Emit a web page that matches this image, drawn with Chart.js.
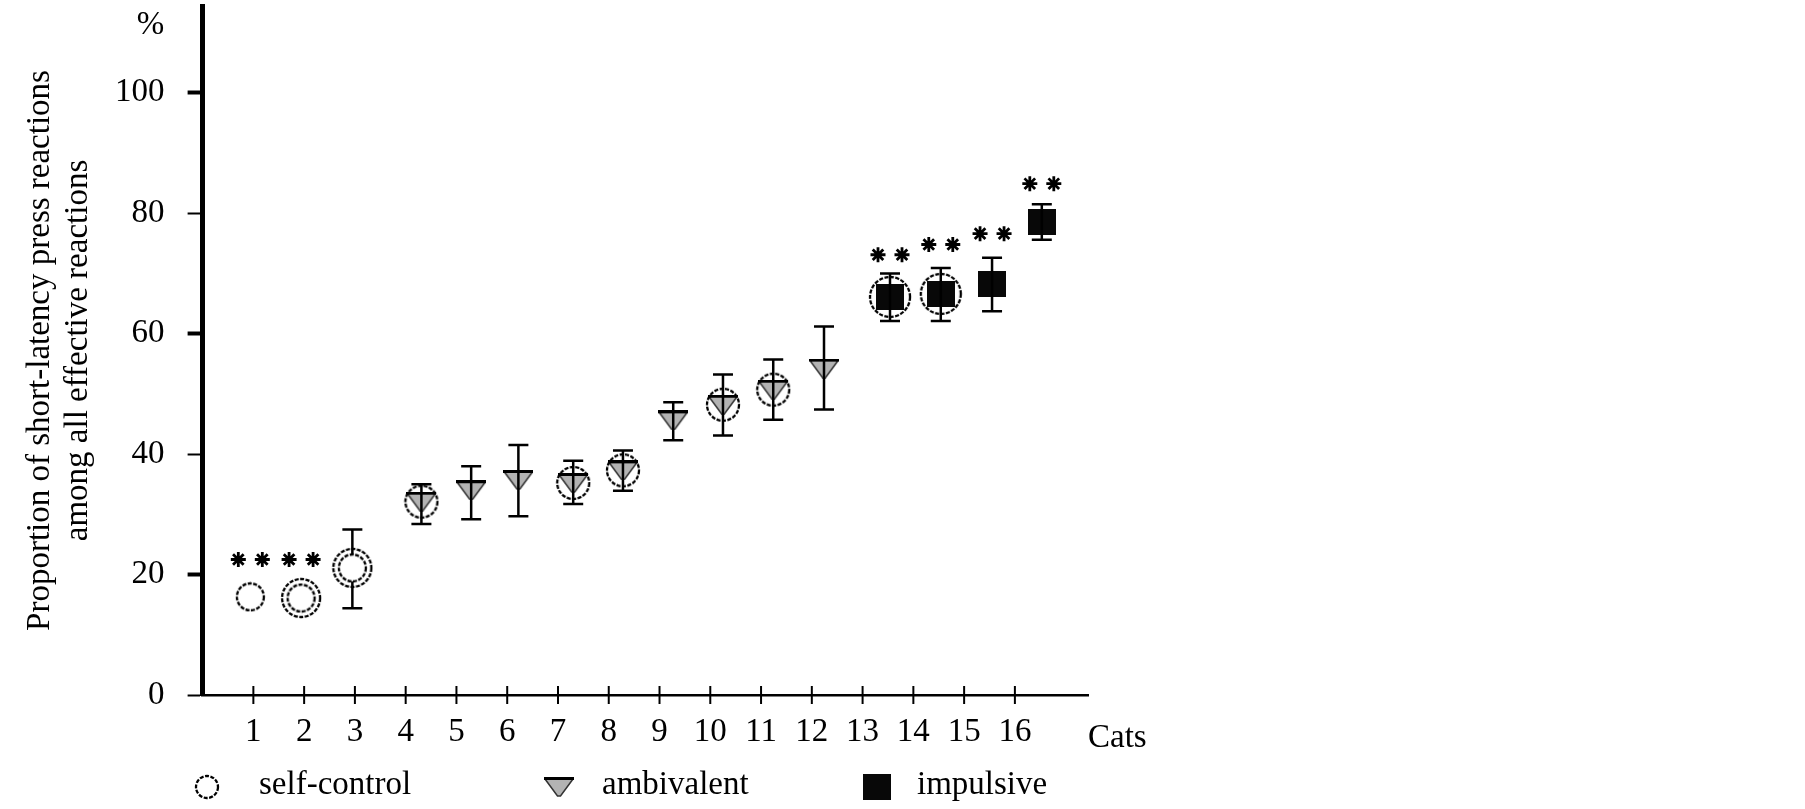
<!DOCTYPE html>
<html>
<head>
<meta charset="utf-8">
<script src="https://cdn.jsdelivr.net/npm/chart.js@4.4.0/dist/chart.umd.min.js"></script>
<style>
  html, body { margin: 0; padding: 0; background: #fff; }
</style>
</head>
<body>
<canvas id="catsChart" width="1805" height="809"></canvas>
<script>
// values
const cats = [1, 2, 3, 4, 5, 6, 7, 8, 9, 10, 11, 12, 13, 14, 15, 16];
const catPos = [0.94, 1.94, 2.95, 4.31, 5.29, 6.22, 7.30, 8.28, 9.27, 10.25, 11.24, 12.24, 13.54, 14.54, 15.55, 16.53];
const groups = ['self-control', 'self-control', 'self-control',
    'ambivalent', 'ambivalent', 'ambivalent', 'ambivalent', 'ambivalent', 'ambivalent', 'ambivalent', 'ambivalent', 'ambivalent',
    'impulsive', 'impulsive', 'impulsive', 'impulsive'];
const meanVals = [16.3, 16.1, 21.1, 32.1, 34.0, 35.7, 35.2, 37.3, 45.6, 48.2, 50.7, 54.2, 66.1, 66.6, 68.2, 78.6];
const errHigh = [null, null, 27.5, 35.0, 38.0, 41.5, 38.9, 40.6, 48.6, 53.2, 55.7, 61.2, 70.0, 70.9, 72.6, 81.5];
const errLow = [null, null, 14.4, 28.4, 29.2, 29.7, 31.7, 33.9, 42.3, 43.1, 45.7, 47.4, 62.1, 62.1, 63.7, 75.6];
const ringedCats = [2, 3, 4, 7, 8, 10, 11, 13, 14];
const starCats = [1, 2, 13, 14, 15, 16];
const starVals = [22.5, 22.5, 73.1, 74.8, 76.6, 84.9];
const yTicks = [0, 20, 40, 60, 80, 100];
const seriesNames = ['self-control', 'ambivalent', 'impulsive'];
const yTitle = ['Proportion of short-latency press reactions', 'among all effective reactions'];

const FONT = 'Liberation Serif';

function makeMarker(w, h, draw) {
    const c = document.createElement('canvas');
    c.width = w;
    c.height = h;
    draw(c.getContext('2d'), w, h);
    return c;
}
function ring(r, fill) {
    return makeMarker(2 * r + 4, 2 * r + 4, (g, w, h) => {
        g.beginPath();
        g.arc(w / 2, h / 2, r, 0, Math.PI * 2);
        if (fill) { g.fillStyle = fill; g.fill(); }
        g.setLineDash([4, 1.5]);
        g.lineWidth = 2.3;
        g.strokeStyle = '#000';
        g.stroke();
    });
}
const circleMarker = ring(13.5, '#fff');
const triMarker = makeMarker(30, 20, (g, w, h) => {
    g.beginPath();
    g.moveTo(1, 2);
    g.lineTo(w - 1, 2);
    g.lineTo(w / 2 + 1.5, h - 1);
    g.lineTo(w / 2 - 1.5, h - 1);
    g.closePath();
    g.fillStyle = '#b3b3b3';
    g.fill();
    g.lineWidth = 1.5;
    g.strokeStyle = '#333';
    g.stroke();
    g.fillStyle = '#000';
    g.fillRect(0, 0, w, 3);
});
const squareMarker = makeMarker(28, 26, (g, w, h) => {
    g.fillStyle = '#080808';
    g.fillRect(0, 0, w, h);
});
const groupMarker = { 'self-control': circleMarker, 'ambivalent': triMarker, 'impulsive': squareMarker };
const ringMarker = { 'self-control': ring(19), 'ambivalent': ring(16), 'impulsive': ring(20) };

const pointOf = i => ({ x: catPos[i], y: meanVals[i] });
const idxOfGroup = g => cats.map((c, i) => i).filter(i => groups[i] === g);
const ringIdx = ringedCats.map(c => cats.indexOf(c));

function drawBars(chart, wanted) {
    const { ctx, scales: { x, y } } = chart;
    ctx.save();
    ctx.strokeStyle = '#000';
    ctx.lineWidth = 2.5;
    cats.forEach((c, i) => {
        if (errHigh[i] == null || !wanted(groups[i])) return;
        const px = x.getPixelForValue(catPos[i]);
        const top = y.getPixelForValue(errHigh[i]);
        const bot = y.getPixelForValue(errLow[i]);
        ctx.beginPath();
        ctx.moveTo(px, top); ctx.lineTo(px, bot);
        ctx.moveTo(px - 10, top); ctx.lineTo(px + 10, top);
        ctx.moveTo(px - 10, bot); ctx.lineTo(px + 10, bot);
        ctx.stroke();
    });
    ctx.restore();
}

function drawAsterisk(ctx, cx, cy, r) {
    ctx.beginPath();
    for (let k = 0; k < 4; k++) {
        const a = k * Math.PI / 4;
        ctx.moveTo(cx - r * Math.cos(a), cy - r * Math.sin(a));
        ctx.lineTo(cx + r * Math.cos(a), cy + r * Math.sin(a));
    }
    ctx.stroke();
}

const extras = {
    id: 'extras',
    beforeDatasetsDraw(chart) {
        drawBars(chart, g => g === 'self-control');
    },
    afterDatasetsDraw(chart) {
        drawBars(chart, g => g !== 'self-control');
    },
    afterDraw(chart) {
        const { ctx, chartArea, scales: { x, y } } = chart;
        ctx.save();
        // x tick marks crossing the axis
        ctx.strokeStyle = '#000';
        ctx.lineWidth = 2;
        cats.forEach(c => {
            const px = x.getPixelForValue(c);
            ctx.beginPath();
            ctx.moveTo(px, chartArea.bottom - 9);
            ctx.lineTo(px, chartArea.bottom + 9);
            ctx.stroke();
        });
        // significance stars
        ctx.lineWidth = 2.8;
        starCats.forEach((c, k) => {
            const i = cats.indexOf(c);
            const px = x.getPixelForValue(catPos[i]);
            const py = y.getPixelForValue(starVals[k]);
            drawAsterisk(ctx, px - 12, py, 7.5);
            drawAsterisk(ctx, px + 12, py, 7.5);
        });
        // texts
        ctx.fillStyle = '#000';
        ctx.font = '33px "' + FONT + '"';
        ctx.textBaseline = 'middle';
        ctx.textAlign = 'center';
        ctx.fillText('%', chartArea.left - 52, 25);
        ctx.textAlign = 'left';
        ctx.fillText('Cats', chartArea.right, 738);
        // legend
        const legX = [207, 559, 877];
        const legTextX = [259, 602, 917];
        const legY = 787;
        seriesNames.forEach((name, k) => {
            const m = k === 0 ? ring(11, '#fff') : groupMarker[name];
            ctx.drawImage(m, legX[k] - m.width / 2, legY - m.height / 2);
            ctx.fillText(name, legTextX[k], legY - 2);
        });
        ctx.restore();
    }
};

new Chart(document.getElementById('catsChart'), {
    type: 'scatter',
    data: {
        datasets: [
            ...seriesNames.map(name => ({
                label: name,
                data: idxOfGroup(name).map(pointOf),
                pointStyle: groupMarker[name],
                pointRadius: 12,
                order: 2
            })),
            {
                label: 'rings',
                data: ringIdx.map(pointOf),
                pointStyle: ringIdx.map(i => ringMarker[groups[i]]),
                pointRadius: 16,
                order: 1
            }
        ]
    },
    options: {
        responsive: false,
        animation: false,
        layout: { autoPadding: false, padding: { top: 6, right: 717, left: 0, bottom: 0 } },
        plugins: { legend: { display: false }, tooltip: { enabled: false } },
        scales: {
            x: {
                type: 'linear',
                min: 0,
                max: 17.44,
                afterBuildTicks: s => { s.ticks = cats.map(v => ({ value: v })); },
                afterFit: s => { s.height = 114; s.paddingLeft = 0; s.paddingRight = 0; },
                grid: { display: false, drawTicks: false },
                border: { display: true, color: '#000', width: 2.5 },
                ticks: { autoSkip: false, maxRotation: 0, color: '#000', padding: 18, font: { family: FONT, size: 33 } }
            },
            y: {
                min: 0,
                max: 114.4,
                afterBuildTicks: s => { s.ticks = yTicks.map(v => ({ value: v })); },
                afterFit: s => { s.width = 202.6; s.paddingTop = 0; s.paddingBottom = 0; },
                grid: {
                    drawOnChartArea: false,
                    drawTicks: true,
                    tickLength: 15,
                    tickColor: '#000',
                    tickWidth: c => [100, 60, 20].includes(c.tick && c.tick.value) ? 4 : 2
                },
                border: { display: true, color: '#000', width: 5 },
                ticks: { color: '#000', padding: 23, font: { family: FONT, size: 33 } },
                title: {
                    display: true,
                    text: yTitle,
                    color: '#000',
                    font: { family: FONT, size: 33, lineHeight: 1.15 },
                    padding: { top: 21, bottom: 0 }
                }
            }
        }
    },
    plugins: [extras]
});
</script>
</body>
</html>
